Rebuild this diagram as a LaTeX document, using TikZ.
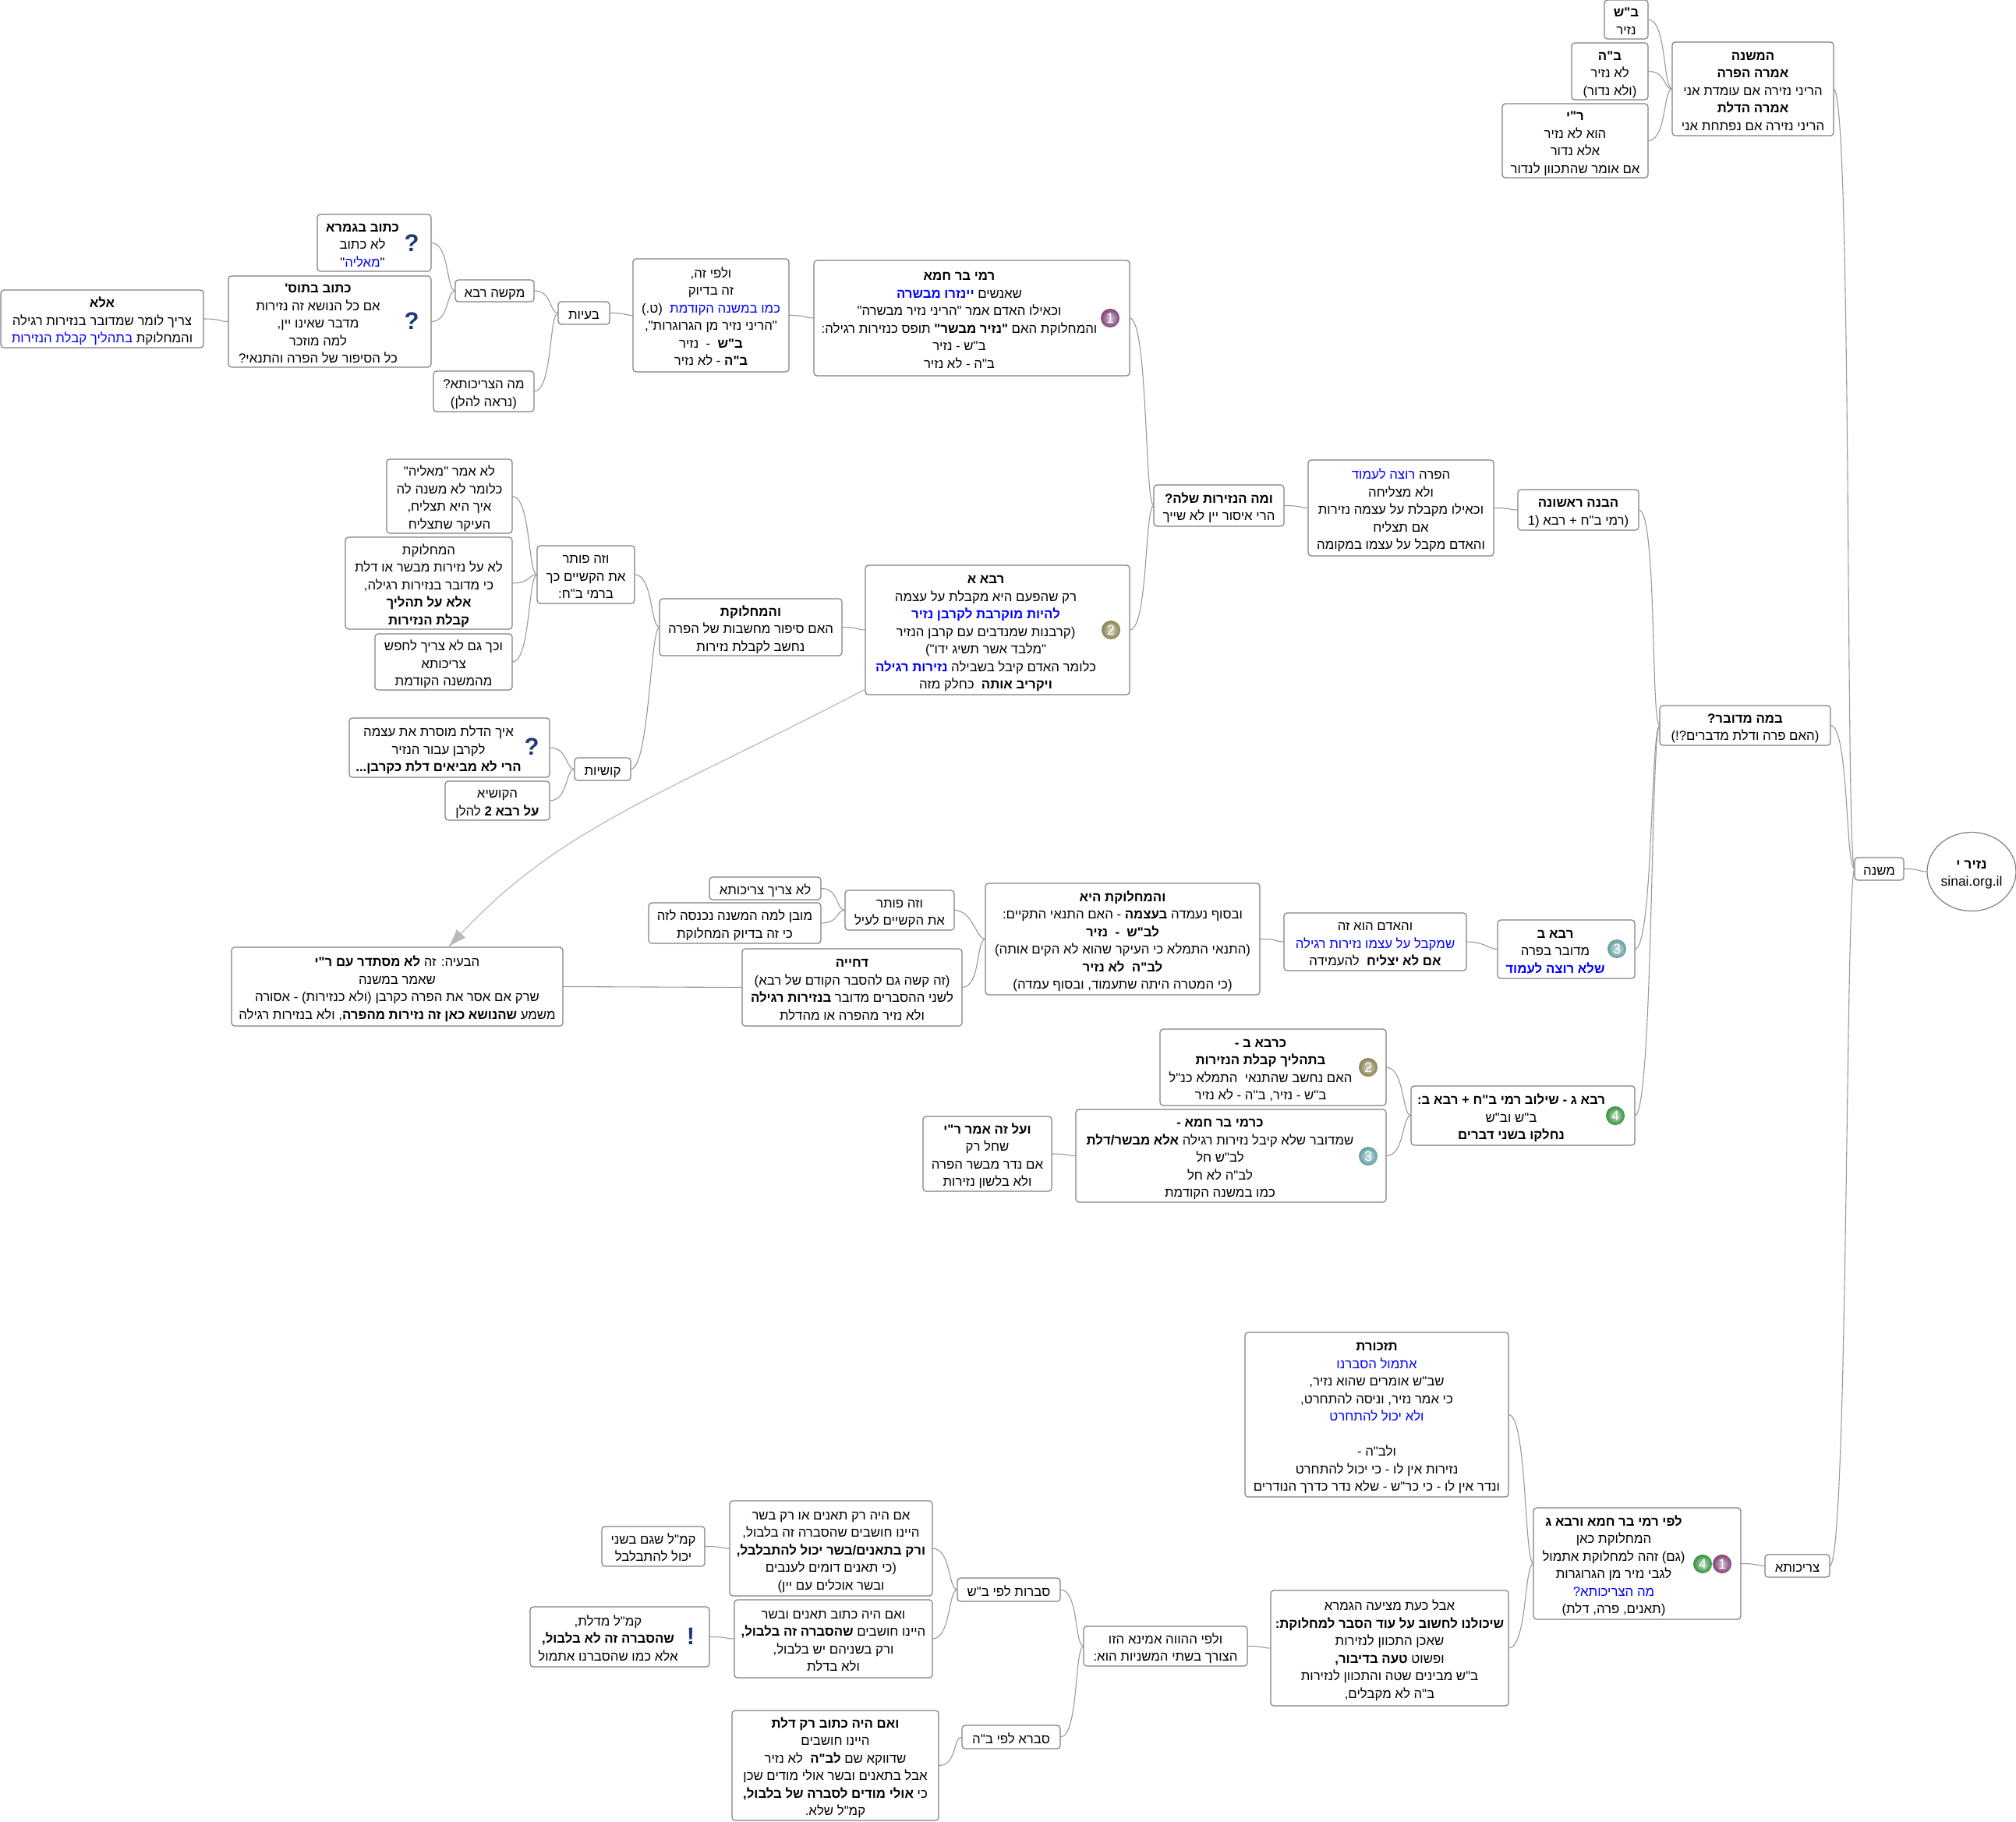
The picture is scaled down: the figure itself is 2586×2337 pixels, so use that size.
\documentclass[tikz,border=0pt]{standalone}
\usepackage{fontspec}
\usetikzlibrary{arrows.meta,shapes.geometric}
\setmainfont[Script=Hebrew,Ligatures=TeXOff]{Liberation Sans}
\TeXXeTstate=1
\def\rlk{0}
\newcommand\rl[1]{\kern\dimexpr\rlk pt*2\relax\rule[-5pt]{0pt}{18pt}\beginR #1\endR}
\newcommand\bl[1]{\beginL\textcolor{blue}{\beginR #1\endR}\endL}
\newcommand\bb[1]{\beginL\textcolor{blue}{\beginR\textbf{#1}\endR}\endL}
\newcommand\tb[1]{\textbf{#1}}
\tikzset{
  box/.style={draw=boxgray,line width=1.2pt,fill=white,rounded corners=4pt,inner sep=0pt,outer sep=0pt,align=center,
    font=\fontsize{16.8}{22.5}\selectfont,text=black},
  conn/.style={draw=conngray,line width=1.1pt},
  ballicon/.style={circle,inner color=#1!30!white,outer color=#1,minimum size=24pt,inner sep=0pt,text=white,font=\fontsize{18}{18}\selectfont},
  qmark/.style={inner sep=0pt,text=iconblue,font=\fontsize{31}{31}\selectfont\bfseries},
}
\definecolor{boxgray}{HTML}{808080}
\definecolor{conngray}{HTML}{999999}
\definecolor{arrgray}{HTML}{B8B8B8}
\definecolor{iconblue}{HTML}{1F3A78}
\definecolor{ballone}{HTML}{7E3F74}
\definecolor{balltwo}{HTML}{87804C}
\definecolor{ballthree}{HTML}{5E9EA0}
\definecolor{ballfour}{HTML}{35913E}
\newcommand\mm[7]{\def\rlk{#6}%
  \node[box,minimum width={(#4-#2)*1pt},minimum height={(#5-#3)*1pt}] (#1) at ({(#2+#4)/2},{(#3+#5)/2}) {\rule{0pt}{21pt}#7};}
\newcommand\lk[2]{\draw[conn] (#1.east) .. controls +(24,0) and +(-12,0) .. (#2.west);}
\begin{document}
\begin{tikzpicture}[x=1pt,y=-1pt]
\useasboundingbox (0,0) rectangle (2586,2337);
\mm{bs}{2058}{0}{2114}{50}{0}{\rl{\tb{ב"ש}}\\\rl{נזיר}}
\mm{bh}{2016}{55}{2114}{128}{0}{\rl{\tb{ב"ה}}\\\rl{לא נזיר}\\\rl{(ולא נדור)}}
\mm{ry}{1927}{133}{2114}{228}{0}{\rl{\tb{ר"י}}\\\rl{הוא לא נזיר}\\\rl{אלא נדור}\\\rl{אם אומר שהתכוון לנדור}}
\mm{hamishna}{2145}{54}{2352}{174}{0}{\rl{\tb{המשנה}}\\\rl{\tb{אמרה הפרה}}\\\rl{הריני נזירה אם עומדת אני}\\\rl{\tb{אמרה הדלת}}\\\rl{הריני נזירה אם נפתחת אני}}
\mm{ktg}{407}{275}{553}{348}{-15}{\rl{\tb{כתוב בגמרא}}\\\rl{לא כתוב}\\\rl{"\bl{מאליה}"}}
\mm{ktt}{293}{354}{553}{471}{-15}{\rl{\tb{כתוב בתוס'}}\\\rl{אם כל הנושא זה נזירות}\\\rl{מדבר שאינו יין,}\\\rl{למה מוזכר}\\\rl{כל הסיפור של הפרה והתנאי?}}
\mm{ela}{1}{372}{261}{446}{0}{\rl{\tb{אלא}}\\\rl{צריך לומר שמדובר בנזירות רגילה}\\\rl{והמחלוקת \bl{בתהליך קבלת הנזירות}}}
\mm{mak}{584}{359}{685}{387}{0}{\rl{מקשה רבא}}
\mm{mhz}{556}{476}{685}{528}{0}{\rl{מה הצריכותא?}\\\rl{(נראה להלן)}}
\mm{baayot}{716}{387}{782}{416}{0}{\rl{בעיות}}
\mm{ulfi}{812}{332}{1012}{477}{0}{\rl{ולפי זה,}\\\rl{זה בדיוק}\\\rl{\bl{כמו במשנה הקודמת}~~(ט.)}\\\rl{"הריני נזיר מן הגרוגרות",}\\\rl{\tb{ב"ש}~~-~~נזיר}\\\rl{\tb{ב"ה} - לא נזיר}}
\mm{rami}{1044}{334}{1449}{482}{-16}{\rl{\tb{רמי בר חמא}}\\\rl{שאנשים \bb{יינזרו מבשרה}}\\\rl{וכאילו האדם אמר "הריני נזיר מבשרה"}\\\rl{והמחלוקת האם \tb{"נזיר מבשר"} תופס כנזירות רגילה:}\\\rl{ב"ש - נזיר}\\\rl{ב"ה - לא נזיר}}
\mm{uma}{1480}{622}{1647}{675}{0}{\rl{\tb{ומה הנזירות שלה?}}\\\rl{הרי איסור יין לא שייך}}
\mm{hapara}{1678}{590}{1916}{713}{0}{\rl{הפרה \bl{רוצה לעמוד}}\\\rl{ולא מצליחה}\\\rl{וכאילו מקבלת על עצמה נזירות}\\\rl{אם תצליח}\\\rl{והאדם מקבל על עצמו במקומה}}
\mm{havana}{1947}{628}{2102}{680}{0}{\rl{\tb{הבנה ראשונה}}\\\rl{(רמי ב"ח + רבא \beginL(1\endL}}
\mm{bama}{2129}{905}{2348}{956}{0}{\rl{\tb{במה מדובר?}}\\\rl{(האם פרה ודלת מדברים?!)}}
\mm{mishna}{2379}{1100}{2442}{1129}{0}{\rl{משנה}}
\node[draw=boxgray,line width=1.2pt,fill=white,ellipse,minimum width=114pt,minimum height=101pt,inner sep=0pt,align=center,font=\fontsize{17.5}{22.5}\selectfont] (root) at (2529,1118) {\rule{0pt}{19pt}\makebox[60pt][c]{\beginR\tb{נזיר י}\endR}\\\makebox[60pt][c]{sinai.org.il}};
\mm{loamar}{496}{589}{657}{684}{0}{\rl{לא אמר "מאליה"}\\\rl{כלומר לא משנה לה}\\\rl{איך היא תצליח,}\\\rl{העיקר שתצליח}}
\mm{hamach}{443}{689}{657}{807}{0}{\rl{המחלוקת}\\\rl{לא על נזירות מבשר או דלת}\\\rl{כי מדובר בנזירות רגילה,}\\\rl{\tb{אלא על תהליך}}\\\rl{\tb{קבלת הנזירות}}}
\mm{vechach}{481}{813}{657}{885}{0}{\rl{וכך גם לא צריך לחפש}\\\rl{צריכותא}\\\rl{מהמשנה הקודמת}}
\mm{pot}{689}{700}{814}{774}{0}{\rl{וזה פותר}\\\rl{את הקשיים כך}\\\rl{ברמי ב"ח:}}
\mm{vehamach}{846}{768}{1080}{841}{0}{\rl{\tb{והמחלוקת}}\\\rl{האם סיפור מחשבות של הפרה}\\\rl{נחשב לקבלת נזירות}}
\mm{rabaa}{1110}{725}{1449}{891}{-15}{\rl{\tb{רבא א}}\\\rl{רק שהפעם היא מקבלת על עצמה}\\\rl{\bb{להיות מוקרבת לקרבן נזיר}}\\\rl{(קרבנות שמנדבים עם קרבן הנזיר}\\\rl{"מלבד אשר תשיג ידו")}\\\rl{כלומר האדם קיבל בשבילה \bb{נזירות רגילה}}\\\rl{\tb{ויקריב אותה}~~כחלק מזה}}
\mm{eich}{448}{921}{705}{997}{-14}{\rl{איך הדלת מוסרת את עצמה}\\\rl{לקרבן עבור הנזיר}\\\rl{\tb{הרי לא מביאים דלת כקרבן...}}}
\mm{hakushia}{571}{1002}{705}{1052}{0}{\rl{הקושיא}\\\rl{\tb{על רבא 2} להלן}}
\mm{kushiot}{737}{972}{809}{1001}{0}{\rl{קושיות}}
\mm{habaya}{297}{1215}{722}{1316}{0}{\rl{הבעיה: זה \tb{לא מסתדר עם ר"י}}\\\rl{שאמר במשנה}\\\rl{שרק אם אסר את הפרה כקרבן (ולא כנזירות) - אסורה}\\\rl{משמע \tb{שהנושא כאן זה נזירות מהפרה}, ולא בנזירות רגילה}}
\mm{dchiya}{952}{1217}{1234}{1316}{0}{\rl{\tb{דחייה}}\\\rl{(זה קשה גם להסבר הקודם של רבא)}\\\rl{לשני ההסברים מדובר \tb{בנזירות רגילה}}\\\rl{ולא נזיר מהפרה או מהדלת}}
\mm{lotzarich}{910}{1125}{1053}{1154}{0}{\rl{לא צריך צריכותא}}
\mm{muvan}{832}{1158}{1053}{1210}{0}{\rl{מובן למה המשנה נכנסה לזה}\\\rl{כי זה בדיוק המחלוקת}}
\mm{potb}{1084}{1142}{1224}{1193}{0}{\rl{וזה פותר}\\\rl{את הקשיים לעיל}}
\mm{hamachhi}{1264}{1133}{1616}{1276}{0}{\rl{\tb{והמחלוקת היא}}\\\rl{ובסוף נעמדה \tb{בעצמה} - האם התנאי התקיים:}\\\rl{\tb{לב"ש~~-~~נזיר}}\\\rl{(התנאי התמלא כי העיקר שהוא לא הקים אותה)}\\\rl{\tb{לב"ה~~לא נזיר}}\\\rl{(כי המטרה היתה שתעמוד, ובסוף עמדה)}}
\mm{vehaadam}{1647}{1171}{1881}{1245}{0}{\rl{והאדם הוא זה}\\\rl{\bl{שמקבל על עצמו נזירות רגילה}}\\\rl{\tb{אם לא יצליח}~~להעמידה}}
\mm{rabab}{1921}{1180}{2097}{1255}{-14}{\rl{\tb{רבא ב}}\\\rl{מדובר בפרה}\\\rl{\bb{שלא רוצה לעמוד}}}
\mm{kraba}{1488}{1320}{1778}{1418}{-16}{\rl{\tb{כרבא ב -}}\\\rl{\tb{בתהליך קבלת הנזירות}}\\\rl{האם נחשב שהתנאי~~התמלא כנ"ל}\\\rl{ב"ש - נזיר, ב"ה - לא נזיר}}
\mm{krami}{1380}{1423}{1778}{1542}{-14}{\rl{\tb{כרמי בר חמא -}}\\\rl{שמדובר שלא קיבל נזירות רגילה \tb{אלא מבשר/דלת}}\\\rl{לב"ש חל}\\\rl{לב"ה לא חל}\\\rl{כמו במשנה הקודמת}}
\mm{veal}{1184}{1432}{1349}{1528}{0}{\rl{\tb{ועל זה אמר ר"י}}\\\rl{שחל רק}\\\rl{אם נדר מבשר הפרה}\\\rl{ולא בלשון נזירות}}
\mm{rabag}{1810}{1393}{2097}{1469}{-15}{\rl{\tb{רבא ג - שילוב רמי ב"ח + רבא ב:}}\\\rl{ב"ש וב"ש}\\\rl{\tb{נחלקו בשני דברים}}}
\mm{tizkoret}{1597}{1709}{1935}{1920}{0}{\rl{\tb{תזכורת}}\\\rl{\bl{אתמול הסברנו}}\\\rl{שב"ש אומרים שהוא נזיר,}\\\rl{כי אמר נזיר, וניסה להתחרט,}\\\rl{\bl{ולא יכול להתחרט}}\\\rl{}\\\rl{ולב"ה -}\\\rl{נזירות אין לו - כי יכול להתחרט}\\\rl{ונדר אין לו - כי כר"ש - שלא נדר כדרך הנודרים}}
\mm{lefi}{1967}{1934}{2233}{2077}{-30}{\rl{\tb{לפי רמי בר חמא ורבא ג}}\\\rl{המחלוקת כאן}\\\rl{(גם) זהה למחלוקת אתמול}\\\rl{לגבי נזיר מן הגרוגרות}\\\rl{\bl{מה הצריכותא?}}\\\rl{(תאנים, פרה, דלת)}}
\mm{tzrichuta}{2264}{1994}{2347}{2023}{0}{\rl{צריכותא}}
\mm{aval}{1630}{2040}{1935}{2188}{0}{\rl{אבל כעת מציעה הגמרא}\\\rl{\tb{שיכולנו לחשוב על עוד הסבר למחלוקת:}}\\\rl{שאכן התכוון לנזירות}\\\rl{ופשוט \tb{טעה בדיבור,}}\\\rl{ב"ש מבינים שטה והתכוון לנזירות}\\\rl{ב"ה לא מקבלים,}}
\mm{ulfihava}{1390}{2086}{1600}{2137}{0}{\rl{ולפי ההווה אמינא הזו}\\\rl{הצורך בשתי המשניות הוא:}}
\mm{svarotbs}{1228}{2024}{1360}{2054}{0}{\rl{סברות לפי ב"ש}}
\mm{svarabh}{1234}{2213}{1360}{2243}{0}{\rl{סברא לפי ב"ה}}
\mm{imhaya}{936}{1925}{1196}{2047}{0}{\rl{אם היה רק תאנים או רק בשר}\\\rl{היינו חושבים שהסברה זה בלבול,}\\\rl{\tb{ורק בתאנים/בשר יכול להתבלבל,}}\\\rl{(כי תאנים דומים לענבים}\\\rl{ובשר אוכלים עם יין)}}
\mm{kamalb}{772}{1958}{904}{2009}{0}{\rl{קמ"ל שגם בשני}\\\rl{יכול להתבלבל}}
\mm{veim}{942}{2052}{1196}{2152}{0}{\rl{ואם היה כתוב תאנים ובשר}\\\rl{היינו חושבים \tb{שהסברה זה בלבול,}}\\\rl{ורק בשניהם יש בלבול,}\\\rl{ולא בדלת}}
\mm{kamald}{680}{2061}{910}{2138}{-15}{\rl{קמ"ל מדלת,}\\\rl{\tb{שהסברה זה לא בלבול,}}\\\rl{אלא כמו שהסברנו אתמול}}
\mm{veimd}{939}{2194}{1204}{2335}{0}{\rl{\tb{ואם היה כתוב רק דלת}}\\\rl{היינו חושבים}\\\rl{שדווקא שם \tb{לב"ה}~~לא נזיר}\\\rl{אבל בתאנים ובשר אולי מודים שכן}\\\rl{כי \tb{אולי מודים לסברה של בלבול,}}\\\rl{קמ"ל שלא.}}
% icons
\node[ballicon=ballone] (iconrami) at (1424,408) {1};
\node[ballicon=balltwo] (iconrabaa) at (1425,808) {2};
\node[ballicon=ballthree] (iconrabab) at (2074,1217) {3};
\node[ballicon=balltwo] (iconkraba) at (1755,1369) {2};
\node[ballicon=ballthree] (iconkrami) at (1755,1483) {3};
\node[ballicon=ballfour] (iconrabag) at (2072,1431) {4};
\node[ballicon=ballfour] (iconlefia) at (2184,2006) {4};
\node[ballicon=ballone] (iconlefib) at (2209,2006) {1};
\node[qmark] (qone) at (528,312) {?};
\node[qmark] (qtwo) at (528,412) {?};
\node[qmark] (qthree) at (682,958) {?};
\node[qmark] (excl) at (886,2099) {!};
% connectors
\lk{bs}{hamishna}\lk{bh}{hamishna}\lk{ry}{hamishna}\lk{hamishna}{mishna}
\lk{ktg}{mak}\lk{ktt}{mak}\lk{ela}{ktt}\lk{mak}{baayot}\lk{mhz}{baayot}\lk{baayot}{ulfi}\lk{ulfi}{rami}
\lk{rami}{uma}\lk{rabaa}{uma}\lk{uma}{hapara}\lk{hapara}{havana}\lk{havana}{bama}\lk{bama}{mishna}
\lk{mishna}{root}
\lk{loamar}{pot}\lk{hamach}{pot}\lk{vechach}{pot}\lk{pot}{vehamach}\lk{kushiot}{vehamach}\lk{vehamach}{rabaa}
\lk{eich}{kushiot}\lk{hakushia}{kushiot}
\lk{lotzarich}{potb}\lk{muvan}{potb}\lk{potb}{hamachhi}\lk{dchiya}{hamachhi}\lk{hamachhi}{vehaadam}\lk{vehaadam}{rabab}\lk{rabab}{bama}
\lk{kraba}{rabag}\lk{krami}{rabag}\lk{veal}{krami}\lk{rabag}{bama}
\lk{tizkoret}{lefi}\lk{aval}{lefi}\lk{lefi}{tzrichuta}\lk{tzrichuta}{mishna}
\lk{ulfihava}{aval}\lk{svarotbs}{ulfihava}\lk{svarabh}{ulfihava}
\lk{imhaya}{svarotbs}\lk{veim}{svarotbs}\lk{kamalb}{imhaya}\lk{kamald}{veim}\lk{veimd}{svarabh}
\draw[conn] (dchiya.west) -- (habaya.east);
\coordinate (arrstart) at (1110,884);
\coordinate (arrtip) at (575,1215);
\draw[draw=arrgray,line width=1.2pt,-{Latex[length=24pt,width=16pt,color=arrgray]}] (arrstart) .. controls (850,1020) and (720,1060) .. (arrtip);
\end{tikzpicture}
\end{document}
